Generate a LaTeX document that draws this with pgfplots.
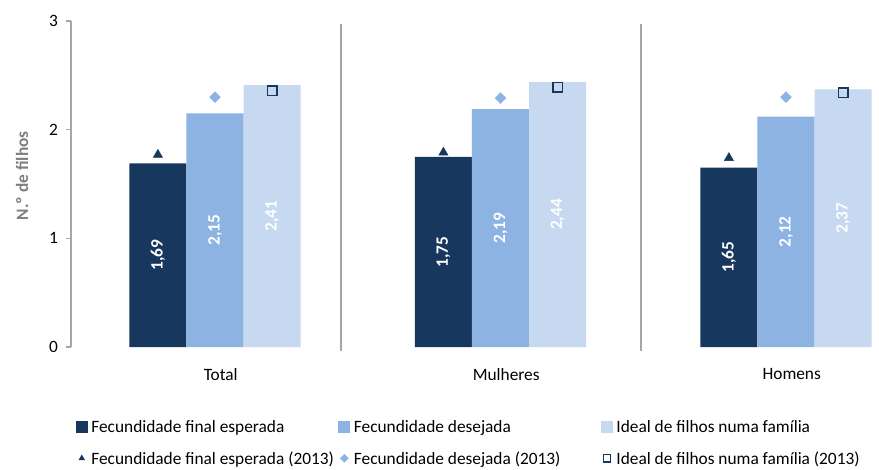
\documentclass[border=0pt]{standalone}
\usepackage{pgfplots}
\pgfplotsset{compat=1.18}
\usepackage{fontspec}
\setmainfont{Carlito}
\definecolor{cdark}{HTML}{17375E}
\definecolor{cmid}{HTML}{8DB3E2}
\definecolor{clight}{HTML}{C6D9F1}
\definecolor{axgray}{HTML}{A6A6A6}
\definecolor{labgray}{HTML}{7F7F7F}
\begin{document}
\fontsize{13}{15.6}\selectfont
\begin{tikzpicture}[x=1pt,y=1pt]
\useasboundingbox (0,0) rectangle (659.25,351.75);
\begin{axis}[
  at={(53.25pt,91.5pt)}, anchor=south west,
  scale only axis, width=606pt, height=244.5pt,
  xmin=-0.5044, xmax=2.3257, ymin=0, ymax=3,
  clip=false,
  axis lines*=left,
  x axis line style={draw=none},
  y axis line style={draw=axgray, line width=1pt},
  ytick={0,1,2,3},
  xtick={0.02,1.02,2.02},
  xticklabels={Total,Mulheres,Homens},
  major x tick style={draw=none},
  major y tick style={draw=axgray, line width=1pt},
  tick align=outside,
  major tick length=3.75pt,
  /pgf/number format/assume math mode=true,
  ticklabel style={font=\fontsize{13}{15.6}\selectfont, text=black},
  xticklabel style={yshift=-7.5pt},
  yticklabel style={xshift=-1.5pt},
  ylabel={N.º de filhos},
  ylabel style={font=\fontsize{13}{15.6}\selectfont\bfseries, text=labgray, at={(axis description cs:-0.0606,0.525)}, anchor=center},
  legend columns=3,
  legend cell align=left,
  legend style={draw=none, fill=none, at={(axis description cs:0.0056,-0.2086)}, anchor=north west,
     inner sep=0pt, outer sep=0pt, nodes={inner sep=2.5pt},
     /tikz/row sep=5.65pt, /tikz/column sep=0pt,
     font=\fontsize{13}{15.6}\selectfont},
]
% separators
\addplot[forget plot, draw=axgray, line width=1.5pt] coordinates {(0.441,-0.037) (0.441,2.97)};
\addplot[forget plot, draw=axgray, line width=1.5pt] coordinates {(1.492,-0.037) (1.492,2.97)};
% bars
\addplot[ybar, bar width=0.2, bar shift=0pt, fill=cdark, draw=none,
  legend image code/.code={\fill[cdark] (0pt,-4.5pt) rectangle (9pt,4.5pt);}]
  coordinates {(-0.2,1.69) (0.8,1.75) (1.8,1.65)};
\addlegendentry{\makebox[182.5pt][l]{\strut Fecundidade final esperada}}
\addplot[ybar, bar width=0.2, bar shift=0pt, fill=cmid, draw=none,
  legend image code/.code={\fill[cmid] (0pt,-4.5pt) rectangle (9pt,4.5pt);}]
  coordinates {(0,2.15) (1,2.19) (2,2.12)};
\addlegendentry{\makebox[182.5pt][l]{\strut Fecundidade desejada}}
\addplot[ybar, bar width=0.2, bar shift=0pt, fill=clight, draw=none,
  legend image code/.code={\fill[clight] (0pt,-4.5pt) rectangle (9pt,4.5pt);}]
  coordinates {(0.2,2.41) (1.2,2.44) (2.2,2.37)};
\addlegendentry{\makebox[182.5pt][l]{\strut Ideal de filhos numa família}}
% 2013 markers
\addplot[only marks, mark=triangle*, mark size=4pt, mark options={fill=cdark, draw=cdark, line width=0.3pt},
  legend image code/.code={\draw[only marks, mark=triangle*, mark size=2.4pt, mark options={fill=cdark, draw=cdark}] plot coordinates {(4.5pt,0pt)};\path (0pt,0pt) (9pt,0pt);}]
  coordinates {(-0.2,1.77) (0.8,1.79) (1.8,1.74)};
\addlegendentry{\makebox[182.5pt][l]{\strut Fecundidade final esperada (2013)}}
\addplot[only marks, mark=square*, mark size=2.9pt, mark options={fill=cmid, draw=cmid, rotate=45, line width=0.3pt},
  legend image code/.code={\draw[only marks, mark=square*, mark size=2.1pt, mark options={fill=cmid, draw=cmid, rotate=45}] plot coordinates {(4.5pt,0pt)};\path (0pt,0pt) (9pt,0pt);}]
  coordinates {(0,2.30) (1,2.29) (2,2.30)};
\addlegendentry{\makebox[182.5pt][l]{\strut Fecundidade desejada (2013)}}
\addplot[only marks, mark=square, mark size=3.6pt, mark options={draw=cdark, line width=1.2pt},
  legend image code/.code={\draw[only marks, mark=square, mark size=2.7pt, mark options={draw=cdark, line width=1pt}] plot coordinates {(4.5pt,0pt)};\path (0pt,0pt) (9pt,0pt);}]
  coordinates {(0.2,2.36) (1.2,2.39) (2.2,2.34)};
\addlegendentry{\makebox[182.5pt][l]{\strut Ideal de filhos numa família (2013)}}
% value labels
\addplot[forget plot, draw=none, mark=none, nodes near coords, point meta=explicit symbolic,
  every node near coord/.append style={rotate=90, anchor=center, text=white, font=\fontsize{13}{15.6}\selectfont\bfseries}]
  table[meta=lab, row sep=\\] {x y lab\\ -0.2 0.845 1,69\\ 0 1.075 2,15\\ 0.2 1.205 2,41\\ 0.8 0.875 1,75\\ 1 1.095 2,19\\ 1.2 1.22 2,44\\ 1.8 0.825 1,65\\ 2 1.06 2,12\\ 2.2 1.185 2,37\\};
\end{axis}
\end{tikzpicture}
\end{document}
